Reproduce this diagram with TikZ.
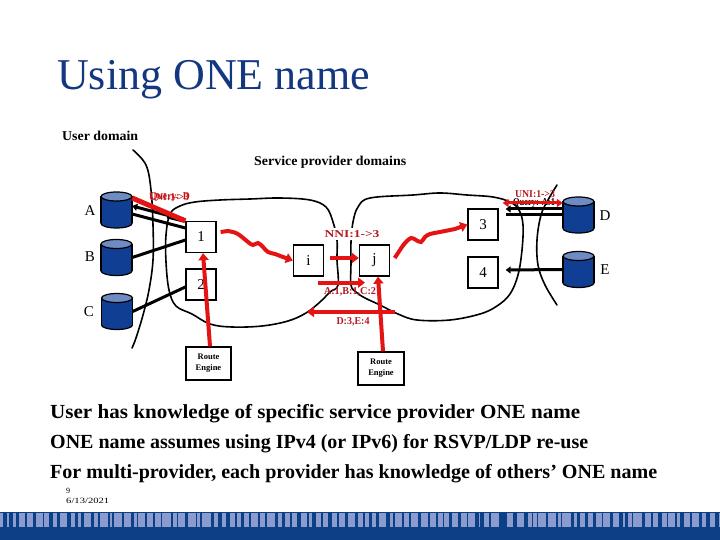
\documentclass[tikz,border=0pt]{standalone}
\usepackage{fontspec}
\setmainfont{Liberation Serif}
\usetikzlibrary{arrows.meta}
\definecolor{titleblue}{RGB}{20,55,130}
\definecolor{cylblue}{RGB}{16,62,146}
\definecolor{cyltop}{RGB}{110,140,195}
\definecolor{redline}{RGB}{228,20,20}
\definecolor{redtext}{RGB}{180,25,30}
\definecolor{bandblue}{RGB}{12,64,134}
\definecolor{bandlight}{RGB}{140,155,205}
\newcommand\fitw[2]{\resizebox{#1}{\height}{#2}}
\newcommand\cylat[3]{%
  \node[minimum width=31pt,minimum height=37pt,inner sep=0] (#1) at (#2,#3) {};
  \fill[cylblue] (#2-15.5,#3-13.5) rectangle (#2+15.5,#3+13.5);
  \begin{scope}
    \clip (#2-20,#3+13.5) rectangle (#2+20,#3+22);
    \filldraw[fill=cylblue,draw=black,line width=1.2pt] (#2,#3+13.5) ellipse [x radius=15.5,y radius=4.5];
  \end{scope}
  \draw[line width=1.2pt] (#2-15.5,#3-13.5) -- (#2-15.5,#3+13.5) (#2+15.5,#3-13.5) -- (#2+15.5,#3+13.5);
  \filldraw[fill=cyltop,draw=black,line width=1.2pt] (#2,#3-13.5) ellipse [x radius=15.5,y radius=4.5];}
\begin{document}
\begin{tikzpicture}[x=1pt,y=-1pt,
  box/.style={draw=black,line width=1.3pt,fill=white,inner sep=0,minimum width=30pt,minimum height=31pt,font=\fontsize{15}{15}\selectfont},
  letter/.style={font=\fontsize{15}{15}\selectfont,inner sep=0},
  redarrow/.style={draw=redline,line width=4pt,-{Triangle[length=7pt,width=10pt]}},
  redln/.style={draw=redline,line width=4pt},
  blk/.style={draw=black,line width=3pt},
  dom/.style={draw=black,line width=1.6pt,line cap=round},
  lbl/.style={text=redtext,font=\bfseries\fontsize{10.5}{10.5}\selectfont,inner sep=1pt},
  re/.style={draw=black,line width=1.3pt,fill=white,align=center,font=\bfseries\fontsize{8.5}{11}\selectfont,minimum width=45pt,minimum height=33pt,inner sep=0}]
\useasboundingbox (0,0) rectangle (720,540);
\fill[white] (0,0) rectangle (720,540);

% title
\node[anchor=base west,inner sep=0,text=titleblue,font=\fontsize{44}{44}\selectfont] (title) at (57,90) {Using ONE name};
\node[anchor=base west,inner sep=0,font=\bfseries\fontsize{13.5}{13.5}\selectfont] (ud) at (62,141) {\fitw{76pt}{User domain}};
\node[anchor=base west,inner sep=0,font=\bfseries\fontsize{13.5}{13.5}\selectfont] (spd) at (254,166) {\fitw{152pt}{Service provider domains}};

% domain boundaries
\draw[dom] plot[smooth cycle,tension=0.6] coordinates {(338,285) (337,260) (337,240) (333,222) (326,207) (310,200) (280,198) (250,199) (220,200) (195,202) (180,206) (170,214) (166,235) (166,262) (169,290) (176,306) (192,314) (210,324) (232,327) (262,326) (288,321) (306,313) (320,302) (330,292)};
\draw[dom] plot[smooth cycle,tension=0.6] coordinates {(351,285) (351,262) (351,242) (353,222) (358,207) (370,198) (413,195) (440,193) (467,195) (493,197) (510,202) (519,210) (523,225) (522,250) (518,275) (510,294) (497,306) (480,314) (450,320) (417,320) (398,314) (380,305) (365,298) (356,292)};
\draw[dom] plot[smooth,tension=0.6] coordinates {(133,150) (146,165) (151,190) (153,225) (153,260) (149,290) (143,315) (136,338) (132,348)};
\draw[dom] plot[smooth,tension=0.6] coordinates {(557,185) (548,200) (541,215) (537,240) (538,265) (545,285) (557,305)};

% cylinders
\cylat{A}{116.5}{210}
\cylat{B}{116.5}{257.5}
\cylat{C}{117}{311.5}
\cylat{D}{578.5}{215}
\cylat{E}{578.5}{269.5}
\node[letter] (lA) at (90,211) {A};
\node[letter] (lB) at (90,257) {B};
\node[letter] (lC) at (89,312) {C};
\node[letter] (lD) at (605,216) {D};
\node[letter] (lE) at (605,270) {E};

% boxes
\node[box] (b1) at (201,237) {1};
\node[box] (b2) at (201,284.5) {2};
\node[box] (bi) at (308.5,260.5) {i};
\node[box] (bj) at (374.5,260.5) {j};
\node[box] (b3) at (483,224.5) {3};
\node[box] (b4) at (483,272.5) {4};
\node[re] (re1) at (208.5,363.5) {Route\\Engine};
\node[re,minimum width=46pt] (re2) at (381,368.5) {Route\\Engine};

% black user links
\draw[blk,-{Triangle[length=5pt,width=7pt]}] ([yshift=17pt]b1.west) -- ([yshift=4pt]A.east);
\draw[blk] ([yshift=-4pt]A.east) -- ([yshift=9pt]b1.west);
\draw[draw=black,line width=5pt] ([xshift=-18pt,yshift=21pt]b1.west) -- ([xshift=-2pt,yshift=17pt]b1.west);
\draw[blk] (B.east) -- ([yshift=-3pt]b1.west);
\draw[blk] (C.east) -- ([yshift=-2.5pt]b2.west);
\draw[blk,-{Triangle[length=5pt,width=7pt]}] ([yshift=6pt]D.west) -- ([xshift=7pt,yshift=15.5pt]b3.east);
\draw[blk] (D.west) -- ([xshift=7pt,yshift=9.5pt]b3.east);
\draw[blk,-{Triangle[length=5pt,width=7pt]}] (E.west) -- ([xshift=7pt,yshift=2.5pt]b4.east);

% labels
\node[lbl,fill=white,inner sep=2pt] (nni) at (352,234) {\fitw{55pt}{NNI:1->3}};
\node[lbl] (abc) at (350,292) {\fitw{52pt}{A:1,B:1,C:2}};
\node[lbl] (de) at (353,322) {\fitw{33pt}{D:3,E:4}};
\node[lbl,text=redline] (uniA) at (169,197) {\fitw{40pt}{UNI:1->3}};
\node[lbl] (qA) at (170,197) {\fitw{40pt}{Query: D}};
\node[lbl] (uniD) at (535,194) {\fitw{40pt}{UNI:1->3}};
\node[lbl,text=black] (qD) at (534,203) {\fitw{42pt}{Query: A:1}};

% red links
\draw[redln,line width=5pt] ([yshift=12pt]A.east) -- (b1.north west);
\draw[redarrow,{Triangle[length=6pt,width=8pt]}-{Triangle[length=6pt,width=8pt]},line width=3pt] ([xshift=4pt,yshift=21.5pt]b3.east) -- ([yshift=12pt]D.west);
\draw[redarrow] ([xshift=4pt,yshift=5pt]b1.east) -- plot[smooth,tension=0.6] coordinates {(228,231) (236,233) (242,237) (248,242) (253,245) (258,243) (263,247) (268,252) (275,254) (283,257)} -- (bi.west);
\draw[redarrow] ([xshift=4.5pt,yshift=2.5pt]bj.east) -- plot[smooth,tension=0.6] coordinates {(400,250) (405,243) (411,238) (416,240) (421,242) (425,237) (430,234) (440,232) (455,229)} -- (b3.west);
\draw[redarrow] ([xshift=6pt,yshift=2.5pt]bi.east) -- ([yshift=2.5pt]bj.west);
\draw[redarrow] ([xshift=9.5pt,yshift=-6pt]bi.south) -- ([xshift=-9.5pt,yshift=-6pt]bj.south);
\coordinate (d1) at (395,312);
\coordinate (d2) at (307,312);
\draw[redarrow] (d1) -- (d2);
\draw[redarrow] ([xshift=1.5pt]re1.north) -- ([xshift=2pt]b1.south);
\draw[redarrow] ([xshift=2pt]re2.north) -- ([xshift=3.5pt]bj.south);

% bullets
\node[anchor=base west,inner sep=0,font=\bfseries\fontsize{20}{20}\selectfont] (t1) at (50,418) {\fitw{530pt}{User has knowledge of specific service provider ONE name}};
\node[anchor=base west,inner sep=0,font=\bfseries\fontsize{20}{20}\selectfont] (t2) at (50,448) {\fitw{538pt}{ONE name assumes using IPv4 (or IPv6) for RSVP/LDP re-use}};
\node[anchor=base west,inner sep=0,font=\bfseries\fontsize{20}{20}\selectfont] (t3) at (50,478) {\fitw{607pt}{For multi-provider, each provider has knowledge of others’ ONE name}};
\node[anchor=base west,inner sep=0,font=\fontsize{8}{8}\selectfont] (pg) at (66,493) {9};
\node[anchor=base west,inner sep=0,font=\fontsize{8}{8}\selectfont] (dt) at (66,503) {\fitw{43pt}{6/13/2021}};

% bottom band
\fill[bandblue] (0,512) rectangle (720,540);
\fill[bandlight] (0,513) rectangle (720,527);
\pgfmathsetseed{11}
\foreach \i in {0,...,89}{
  \pgfmathsetmacro\xx{\i*8+rnd*4}
  \pgfmathsetmacro\ww{1.2+rnd*3}
  \fill[bandblue] (\xx,513) rectangle ++(\ww,14);
}
\end{tikzpicture}
\end{document}
